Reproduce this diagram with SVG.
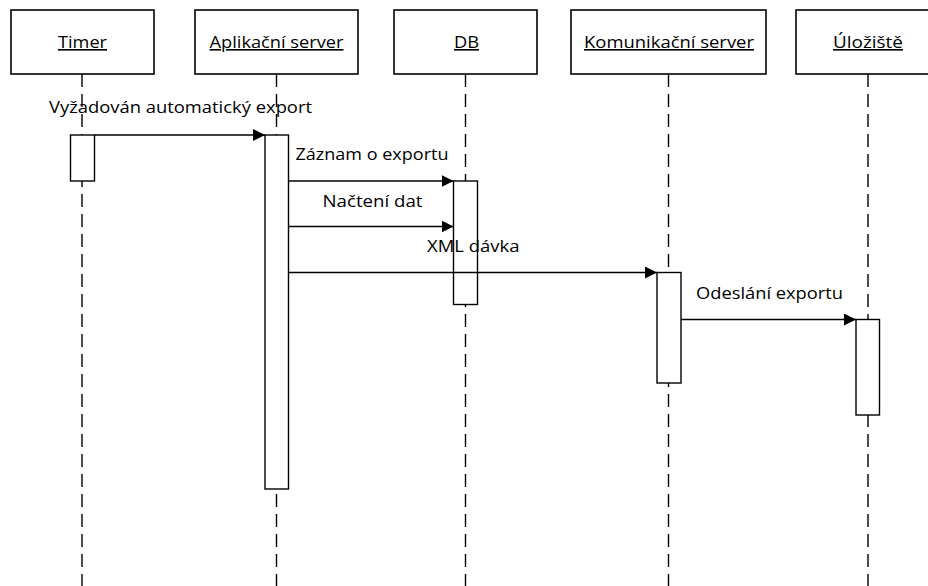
<svg xmlns="http://www.w3.org/2000/svg" width="928" height="586" viewBox="0 0 928 586">
<style>
.box{fill:#fff;stroke:#000;stroke-width:1.6}
.act{fill:#fff;stroke:#000;stroke-width:1.4}
.life{stroke:#000;stroke-width:1.4;stroke-dasharray:13 7;fill:none}
.msg{stroke:#000;stroke-width:1.4;fill:none;marker-end:url(#arr)}
text{font-family:"Open Sans","Noto Sans","DejaVu Sans",sans-serif;font-size:16px;fill:#000}
.hdr{text-anchor:middle;text-decoration:underline}
</style>
<defs>
<marker id="arr" viewBox="0 0 12 12" refX="12" refY="6" markerWidth="12" markerHeight="12" markerUnits="userSpaceOnUse" orient="auto">
<path d="M0,0 L12,6 L0,12 Z" fill="#000"/>
</marker>
</defs>
<rect width="928" height="586" fill="#fff"/>
<g id="lifelines">
<line class="life" x1="82" y1="74" x2="82" y2="586"/>
<line class="life" x1="276.5" y1="74" x2="276.5" y2="586"/>
<line class="life" x1="465.5" y1="74" x2="465.5" y2="586"/>
<line class="life" x1="668.5" y1="74" x2="668.5" y2="586"/>
<line class="life" x1="868" y1="74" x2="868" y2="586"/>
</g>
<g id="timer">
<rect class="box" x="11" y="10" width="143" height="64"/>
<text class="hdr" x="82.5" y="48" textLength="49" lengthAdjust="spacingAndGlyphs">Timer</text>
<rect class="act" x="70.5" y="135" width="24" height="46"/>
</g>
<g id="aplikacni-server">
<rect class="box" x="195" y="10" width="163" height="64"/>
<text class="hdr" x="276.5" y="48" textLength="134" lengthAdjust="spacingAndGlyphs">Aplikační server</text>
<rect class="act" x="265" y="135" width="23.5" height="354"/>
</g>
<g id="db">
<rect class="box" x="394" y="10" width="143" height="64"/>
<text class="hdr" x="466.5" y="48" textLength="25" lengthAdjust="spacingAndGlyphs">DB</text>
<rect class="act" x="453.5" y="181" width="24" height="123.5"/>
</g>
<g id="komunikacni-server">
<rect class="box" x="571" y="10" width="195" height="64"/>
<text class="hdr" x="669" y="48" textLength="170" lengthAdjust="spacingAndGlyphs">Komunikační server</text>
<rect class="act" x="657" y="272.5" width="24" height="110.5"/>
</g>
<g id="uloziste">
<rect class="box" x="796" y="10" width="144" height="64"/>
<text class="hdr" x="868" y="48" textLength="70" lengthAdjust="spacingAndGlyphs">Úložiště</text>
<rect class="act" x="856" y="319.5" width="23.5" height="95.5"/>
</g>
<g id="connectors">
<line class="msg" x1="94.5" y1="135" x2="265" y2="135"/>
<line class="msg" x1="288.5" y1="181" x2="453.5" y2="181"/>
<line class="msg" x1="288.5" y1="226.5" x2="453.5" y2="226.5"/>
<line class="msg" x1="288.5" y1="272.5" x2="657" y2="272.5"/>
<line class="msg" x1="681" y1="319.5" x2="856" y2="319.5"/>
</g>
<g id="labels">
<text x="49" y="113" textLength="263" lengthAdjust="spacingAndGlyphs">Vyžadován automatický export</text>
<text x="295.5" y="160" textLength="153" lengthAdjust="spacingAndGlyphs">Záznam o exportu</text>
<text x="322.5" y="206.5" textLength="100" lengthAdjust="spacingAndGlyphs">Načtení dat</text>
<text x="427" y="251.5" textLength="92.5" lengthAdjust="spacingAndGlyphs">XML dávka</text>
<text x="696" y="298.5" textLength="147" lengthAdjust="spacingAndGlyphs">Odeslání exportu</text>
</g>
</svg>
